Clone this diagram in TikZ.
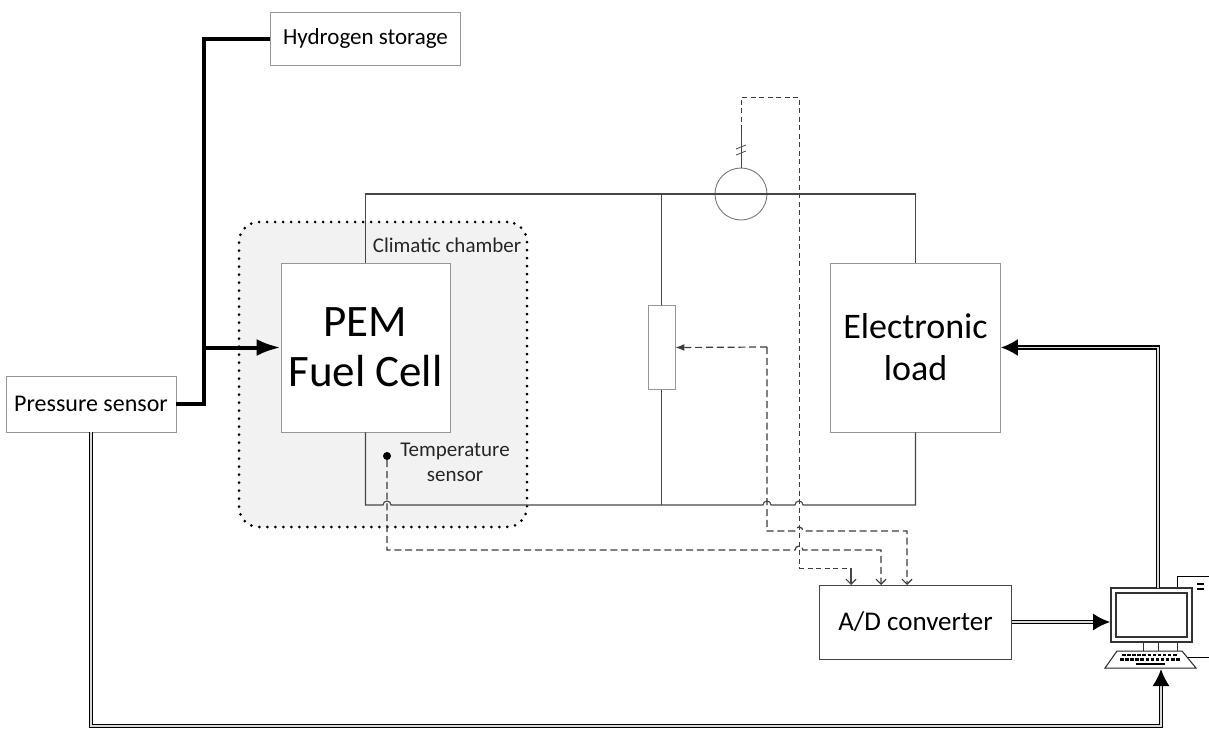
\documentclass[tikz,border=0pt]{standalone}
\usepackage{fontspec}
\setmainfont{Carlito}
\usetikzlibrary{arrows.meta, positioning}
\definecolor{BoxGray}{RGB}{150, 150, 150}
\definecolor{WireGray}{RGB}{70, 70, 70}
\definecolor{SignalGray}{RGB}{60, 60, 60}
\definecolor{ChamberFill}{RGB}{242, 242, 242}
\begin{document}
\begin{tikzpicture}[x=1pt, y=-1pt, node distance=100pt]
        \tikzstyle{unit} = [rectangle, inner sep=0pt, text centered, align=center, draw=BoxGray, fill=white, line width=0.9pt]
        \tikzstyle{wire} = [draw=WireGray, line width=1.1pt]
        \tikzstyle{signal} = [draw=SignalGray, line width=1.2pt, dash pattern=on 7pt off 3.8pt]
        \tikzstyle{sigtip} = [-{Straight Barb[length=5pt, width=10pt]}]
        \tikzstyle{pipe} = [draw=black, line width=4pt]
        \tikzstyle{bus} = [draw=black, line width=1.7pt, double=black!15, double distance=1.4pt]
        \tikzstyle{bigtip} = [-{Latex[length=17pt, width=17pt]}]
        \tikzstyle{label} = [inner sep=0pt, align=center, text=black!85, font=\fontsize{21}{25}\selectfont]

        \useasboundingbox (0,0) rectangle (1209,728);

        % Chamber
        \node (chamber) [draw=black, fill=ChamberFill, line width=3pt, dash pattern=on 0pt off 8pt, line cap=round, rounded corners=20pt, minimum width=288pt, minimum height=305pt, inner sep=0pt] at (383,374.5) {};

        % Circuit
        \node (pem) [unit, minimum width=169pt, minimum height=169pt, font=\fontsize{45}{50}\selectfont] at (365.5,347.5) {PEM\\Fuel Cell};
        \node (load) [unit, right of=pem, xshift=450pt, minimum width=170pt, minimum height=169pt, font=\fontsize{36}{42}\selectfont] {Electronic\\load};
        \node (rheostat) [unit, right of=pem, xshift=196pt, minimum width=27pt, minimum height=84pt] {};
        \node (ammeter) [circle, draw=BoxGray!80!black, line width=0.9pt, minimum size=52pt, inner sep=0pt] at (741,194) {};
        \coordinate (topleft) at (365.5,194);
        \coordinate (botleft) at (365.5,505);
        \draw [wire] (pem.north) -- (topleft) -- (ammeter.west);
        \draw [wire] (ammeter.west) -- (ammeter.east) -- (915.5,194) -- (load.north);
        \draw [wire] (rheostat.north) -- (661.5,194);
        \draw [wire] (rheostat.south) -- (661.5,505);
        \draw [wire] (pem.south) -- (botleft) -- (383,505) arc (180:360:4) -- (763,505) arc (180:360:4) -- (795,505) arc (180:360:4) -- (915.5,505) -- (load.south);

        % Other units
        \node (hydrogen) [unit, above of=pem, yshift=209pt, minimum width=190pt, minimum height=53pt, font=\fontsize{23}{27}\selectfont] {Hydrogen storage};
        \node (pressure) [unit, left of=pem, xshift=-174.5pt, yshift=-56.5pt, minimum width=170pt, minimum height=56pt, font=\fontsize{24}{28}\selectfont] {Pressure sensor};
        \node (adc) [unit, below of=load, yshift=-174.5pt, draw=WireGray, minimum width=192pt, minimum height=74pt, font=\fontsize{27}{31}\selectfont] {A/D converter};

        % Labels in chamber
        \node (chamberlabel) [label] at (447,245) {Climatic chamber};
        \node (templabel) [label] at (455,462) {Temperature\\sensor};
        \node (tempdot) [circle, fill=black, minimum size=8pt, inner sep=0pt] at (387,456) {};

        % Computer
        \node (tower) [draw=black, line width=1pt, minimum width=60pt, minimum height=81pt, inner sep=0pt, fill=white] at (1207,616.5) {};
        \node (monitor) [draw=black!80, line width=1.8pt, fill=white, minimum width=81pt, minimum height=54pt, inner sep=0pt] at (1151.5,615) {};
        \node (screen) [draw=black!80, line width=1.5pt, minimum width=71pt, minimum height=44pt, inner sep=0pt] at (monitor.center) {};
        \draw [black!80, line width=1pt] (1143,642) -- (1143,651);
        \draw [black!80, line width=1pt] (1158,642) -- (1158,651);
        \draw [black!80, line width=1pt] (1177,642) -- (1177,651);
        \draw [black!85, line width=1pt, fill=white] (1117,651) -- (1182,651) -- (1196,668) -- (1105,668) -- cycle;
        \draw [black, line width=2.2pt, dash pattern=on 3.5pt off 1.6pt] (1122,655) -- (1177,655);
        \draw [black, line width=2.2pt, dash pattern=on 3.5pt off 1.6pt] (1120,659.5) -- (1180,659.5);
        \draw [black, line width=2pt] (1136,663.5) -- (1165,663.5);
        \draw [black, line width=2pt] (1197,584) -- (1204,584);
        \draw [black, line width=2pt] (1197,589) -- (1204,589);

        % Pipes
        \coordinate (junction) at (204,347.5);
        \draw [pipe] (hydrogen.west) -| (junction) |- (pressure.east);
        \draw [pipe, -{Latex[length=24pt, width=17pt]}] (junction) -- (pem.west);

        % Buses
        \coordinate (cpuport) at (1158,588);
        \coordinate (kbport) at (1161,669);
        \coordinate (floor) at (1161,726);
        \draw [bus, bigtip] (cpuport) |- (load.east);
        \draw [bus, bigtip] (adc.east) -- (adc.east -| monitor.west);
        \draw [bus, bigtip] (pressure.south) |- (floor) -- (kbport);

        % Signals
        \coordinate (ampfar) at (799,97);
        \coordinate (ampnear) at (741,97);
        \draw [BoxGray!40!black, line width=1pt, dash pattern=on 5pt off 3.5pt] (741,130) -- (ampnear) -- (ampfar) -- (799,568);
        \draw [BoxGray!40!black, line width=1pt, dash pattern=on 5pt off 3.5pt] (799,568) -- (851,568);
        \draw [WireGray, line width=1pt] (741,130) -- (ammeter.north);
        \draw [WireGray, line width=0.8pt] (736,149) -- (746,145);
        \draw [WireGray, line width=0.8pt] (736,155) -- (746,151);
        \draw [WireGray, line width=1.1pt, sigtip] (851,568) -- (851,585);
        \draw [signal, sigtip] (tempdot.south) -- (387,550) -- (795,550) arc (180:360:4) -- (881,550) -- (881,585);
        \draw [signal, -{Latex[length=9pt, width=7pt]}] (767,347) -- (rheostat.east);
        \draw [signal, sigtip] (767,347) -- (767,531) -- (795,531) arc (180:360:4) -- (907,531) -- (907,585);
    \end{tikzpicture}
\end{document}
